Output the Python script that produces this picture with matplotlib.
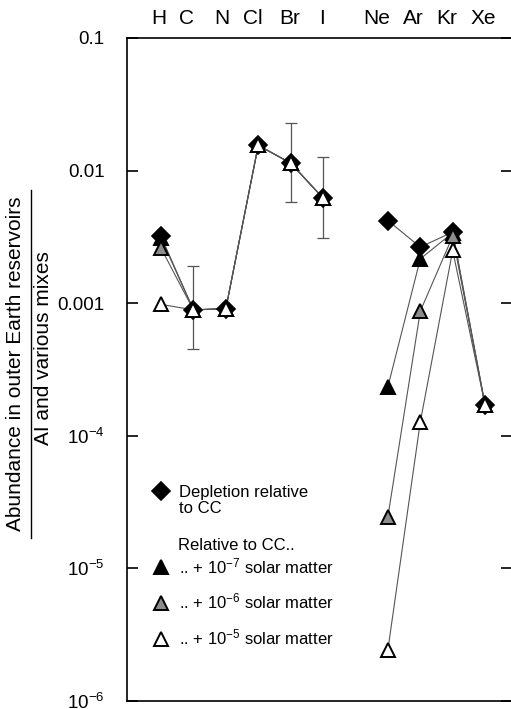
import numpy as np
import matplotlib
matplotlib.use('Agg')
import matplotlib.pyplot as plt
from matplotlib.lines import Line2D

plt.rcParams['font.family'] = ['Liberation Sans', 'DejaVu Sans']
plt.rcParams['mathtext.fontset'] = 'custom'
plt.rcParams['mathtext.rm'] = 'Liberation Sans'
plt.rcParams['mathtext.it'] = 'Liberation Sans'

# elements and their positions on the x axis (gap between halogens and noble gases)
elements = ['H', 'C', 'N', 'Cl', 'Br', 'I', 'Ne', 'Ar', 'Kr', 'Xe']
xpos = [0, 1, 2, 3, 4, 5, 7, 8, 9, 10]
label_pos = [-0.06, 0.80, 1.88, 2.84, 3.96, 4.98, 6.67, 7.78, 8.83, 9.94]

# depletion relative to CC
depletion = [0.0032, 0.00089, 0.00091, 0.0155, 0.0114, 0.0062,
             0.0042, 0.00265, 0.00344, 0.00017]
# relative to CC + solar matter
solar_1e7 = [0.0031, 0.00089, 0.00091, 0.0155, 0.0114, 0.0062,
             0.000234, 0.00216, 0.0034, 0.00017]
solar_1e6 = [0.0026, 0.00089, 0.00091, 0.0155, 0.0114, 0.0062,
             0.0000245, 0.00087, 0.0032, 0.00017]
solar_1e5 = [0.00098, 0.00089, 0.00091, 0.0155, 0.0114, 0.0062,
             0.00000243, 0.000127, 0.0025, 0.00017]

# error bars (C, Br, I)
err_idx = [1, 4, 5]
err_low = [0.00045, 0.0058, 0.0031]
err_high = [0.0019, 0.023, 0.0126]

fig = plt.figure(figsize=(5.11, 7.09), dpi=100)
ax = fig.add_axes([127 / 511, 8 / 709, 385 / 511, 663 / 709])

line_kw = dict(color='#555555', lw=0.8, zorder=2)

# error bars
ex = [xpos[i] for i in err_idx]
ey = [depletion[i] for i in err_idx]
yerr = [np.array(ey) - np.array(err_low), np.array(err_high) - np.array(ey)]
ax.errorbar(ex, ey, yerr=yerr, fmt='none', ecolor='#555555', elinewidth=0.9,
            capsize=4, capthick=0.9, zorder=1)

series = [
    (depletion, dict(marker='D', ms=9.5, mfc='black', mec='black', mew=1.2)),
    (solar_1e7, dict(marker='^', ms=10, mfc='black', mec='black', mew=1.4)),
    (solar_1e6, dict(marker='^', ms=10, mfc='#8c8c8c', mec='black', mew=1.4)),
    (solar_1e5, dict(marker='^', ms=10, mfc='white', mec='black', mew=1.4)),
]
for k, (vals, mk) in enumerate(series):
    for part in (slice(0, 6), slice(6, 10)):
        ax.plot(xpos[part], vals[part], ls='-', **line_kw)
    ax.plot(xpos, vals, ls='none', zorder=3 + k, **mk)

ax.set_yscale('log')
ax.set_ylim(1e-6, 0.1)
ax.set_xlim(-1.05, 10.83)
ax.set_yticks([1e-6, 1e-5, 1e-4, 1e-3, 1e-2, 1e-1])
ax.set_yticklabels(['$10^{-6}$', '$10^{-5}$', '$10^{-4}$', '0.001', '0.01', '0.1'])
ax.yaxis.set_minor_locator(matplotlib.ticker.NullLocator())
ax.tick_params(axis='y', which='major', direction='in', length=8, width=1.2,
               right=True, labelsize=13.5, pad=16)

ax.set_xticks(label_pos)
ax.set_xticklabels(elements)
ax.tick_params(axis='x', top=True, bottom=False, labeltop=True,
               labelbottom=False, length=0, labelsize=15, pad=7)

for s in ax.spines.values():
    s.set_linewidth(1.2)

# y label written as a fraction
fig.text(16 / 511, 1 - 364 / 709, 'Abundance in outer Earth reservoirs',
         rotation=90, ha='center', va='center', fontsize=15)
fig.text(44 / 511, 1 - 348 / 709, 'AI and various mixes',
         rotation=90, ha='center', va='center', fontsize=15)
fig.add_artist(Line2D([31 / 511, 31 / 511], [1 - 190 / 709, 1 - 538 / 709],
                      color='black', lw=1, transform=fig.transFigure))

# legends
h_dep = Line2D([], [], ls='none', **series[0][1])
h_blank = Line2D([], [], ls='none')
leg1 = ax.legend([h_dep, h_blank], ['Depletion relative', 'to CC'],
                 loc='upper left', bbox_to_anchor=(0.045, 0.338), frameon=False,
                 fontsize=12, handlelength=1, handletextpad=0.6, borderpad=0,
                 labelspacing=0.05)
ax.add_artist(leg1)
ax.text(0.133, 0.234, 'Relative to CC..', transform=ax.transAxes,
        ha='left', va='center', fontsize=12)
h_tri = [Line2D([], [], ls='none', **mk) for _, mk in series[1:]]
labs = ['.. + $10^{-7}$ solar matter', '.. + $10^{-6}$ solar matter',
        '.. + $10^{-5}$ solar matter']
ax.legend(h_tri, labs, loc='upper left', bbox_to_anchor=(0.045, 0.231),
          frameon=False, fontsize=12, handlelength=1, handletextpad=0.6,
          borderpad=0, labelspacing=0.95)

fig.savefig('out.png', dpi=100)
